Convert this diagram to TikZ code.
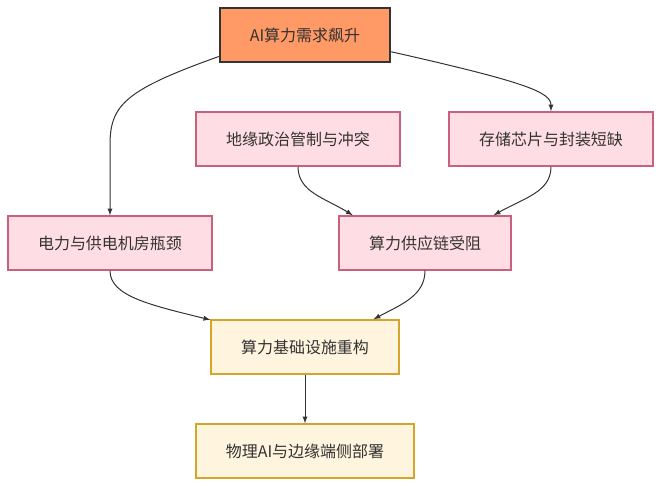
\documentclass[tikz,border=0pt]{standalone}
\usepackage{fontspec}
\setmainfont{Noto Sans CJK SC}
\definecolor{hotorange}{RGB}{255, 153, 102}
\definecolor{darkline}{RGB}{51, 51, 51}
\definecolor{riskpink}{RGB}{255, 221, 228}
\definecolor{riskborder}{RGB}{200, 96, 126}
\definecolor{shiftyellow}{RGB}{255, 244, 221}
\definecolor{shiftborder}{RGB}{212, 165, 42}
\usetikzlibrary{shapes,arrows,positioning,calc}

\begin{document}
\begin{tikzpicture}[x=0.75pt, y=-0.75pt,
    box/.style={rectangle, draw, minimum height=40.5pt, inner xsep=22.5pt, font=\fontsize{12}{14}\selectfont, text=darkline},
    risk/.style={box, fill=riskpink, draw=riskborder, line width=1.1pt},
    outcome/.style={box, fill=shiftyellow, draw=shiftborder, line width=1.1pt},
    flow/.style={-latex, line width=0.75pt, color=darkline}]
    \useasboundingbox (0,0) rectangle (662,486);

    % Driver
    \node[box, fill=hotorange, draw=darkline, line width=1.5pt] (demand) at (305,35) {AI算力需求飙升};

    % Constraints
    \node[risk] (geo) at (298,139) {地缘政治管制与冲突};
    \node[risk] (storage) at (551,139) {存储芯片与封装短缺};
    \node[risk] (power) at (110,243) {电力与供电机房瓶颈};
    \node[risk] (chain) at (425,243) {算力供应链受阻};

    % Outcomes
    \node[outcome] (infra) at (305,347) {算力基础设施重构};
    \node[outcome] (edgeai) at (305,451) {物理AI与边缘端侧部署};

    % Arrows
    \draw[flow] (demand.194) .. controls (125,90) and (110,105) .. (110,145) -- (power.north);
    \draw[flow] (demand.349) .. controls (525,82) and (551,92) .. (storage.north);
    \draw[flow] (geo.south) .. controls (298,192) and (325,198) .. (chain.159);
    \draw[flow] (storage.south) .. controls (551,192) and (524,198) .. (chain.22);
    \draw[flow] (power.south) .. controls (110,296) and (150,305) .. (infra.164);
    \draw[flow] (chain.south) .. controls (425,296) and (400,305) .. (infra.22);
    \draw[flow] (infra) -- (edgeai);
\end{tikzpicture}
\end{document}
